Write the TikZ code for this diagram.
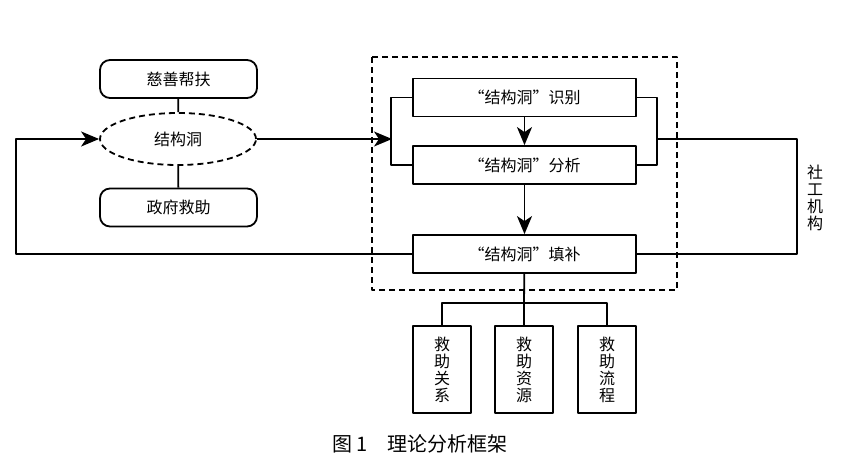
\documentclass[tikz,border=0pt]{standalone}
\usepackage{fontspec}
\newfontfamily\cjk{Noto Sans CJK SC}
\usetikzlibrary{arrows.meta,shapes.geometric,positioning}
\begin{document}
\begin{tikzpicture}[x=1pt,y=-1pt,line join=round,line width=1.8pt,
	>={Stealth[length=18pt,width=15pt,inset=5pt]},
	font=\cjk\fontsize{16}{17}\selectfont,
	rbox/.style={draw,rounded corners=10pt,minimum width=157pt,minimum height=38pt,inner sep=0pt},
	sbox/.style={draw,minimum width=223pt,minimum height=38pt,inner sep=0pt},
	vbox/.style={draw,minimum width=58pt,minimum height=87pt,inner sep=0pt,align=center},
	hole/.style={draw,dash pattern=on 6pt off 4pt,ellipse,minimum width=156pt,minimum height=52pt,inner sep=0pt}]
	\useasboundingbox (0,0) rectangle (849,466);
	% left part
	\node[rbox] (cishan) at (178.5,79) {慈善帮扶};
	\node[hole] (jgd) at (178,139) {结构洞};
	\node[rbox] (zhengfu) at (178.5,207.5) {政府救助};
	\draw (cishan)--(jgd)--(zhengfu);
	% social work agency
	\draw[line width=1.4pt,dash pattern=on 6pt off 4pt] (372,57) rectangle (677,290);
	\node[sbox] (shibie) at (524.5,97.5) {“结构洞”识别};
	\node[sbox] (fenxi) at (524.5,165) {“结构洞”分析};
	\node[sbox] (tianbu) at (524.5,254) {“结构洞”填补};
	\node[align=center,inner sep=0pt] (shegong) at (815,198) {社\\工\\机\\构};
	\path
	(392,139) coordinate (inL)
	(656,139) coordinate (inR)
	(797,139) coordinate (rt)
	(16,139) coordinate (lt)
	(524,303) coordinate (split);
	\draw (shibie.west)--++(-21,0)|-(fenxi.west);
	\draw (shibie.east)--++(20,0)|-(fenxi.east);
	\draw[->] (jgd.east)--(inL);
	\draw[->] (shibie)--(fenxi);
	\draw[->] (fenxi)--(tianbu);
	\draw (inR)--(rt)|-(tianbu.east);
	\draw[->] (tianbu.west)-|(lt)--(jgd.west);
	% rescue
	\node[vbox] (guanxi) at (442,369.5) {救\\助\\关\\系};
	\node[vbox] (ziyuan) at (524,369.5) {救\\助\\资\\源};
	\node[vbox] (liucheng) at (607,369.5) {救\\助\\流\\程};
	\draw (tianbu)--(split)--(ziyuan);
	\draw (guanxi.north)|-(split)-|(liucheng.north);
	\node[font=\cjk\fontsize{20}{22}\selectfont] (caption) at (420,444) {图 1\quad 理论分析框架};
\end{tikzpicture}
\end{document}
